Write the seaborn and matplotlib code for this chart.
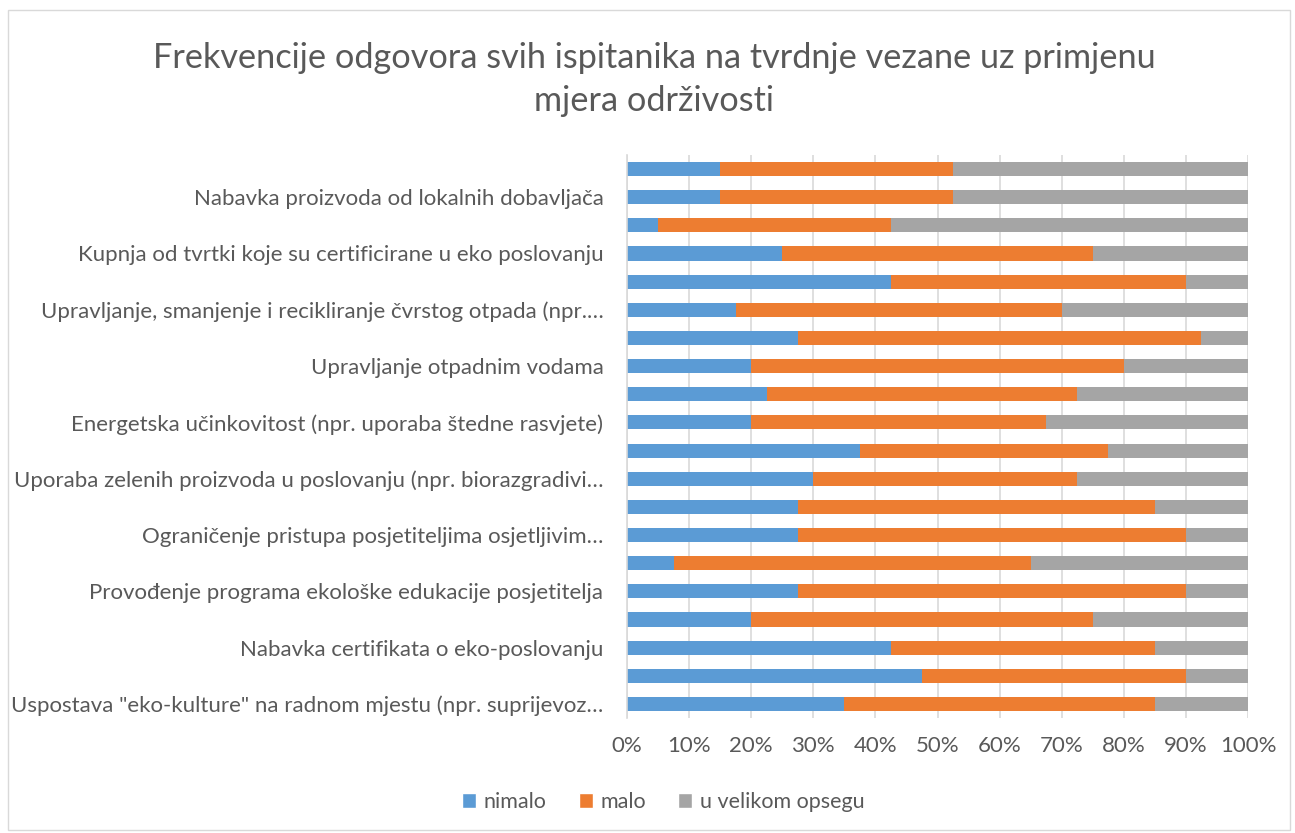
import numpy as np
import pandas as pd
from matplotlib import pyplot as plt
from matplotlib.patches import Patch, Rectangle
from matplotlib.ticker import PercentFormatter
import seaborn as sns

sns.set_style("white")
plt.rcParams['font.family'] = ['Lato', 'DejaVu Sans']

# statements, top to bottom; Excel shows only every other label
labels = ["",
          "Nabavka proizvoda od lokalnih dobavljača",
          "",
          "Kupnja od tvrtki koje su certificirane u eko poslovanju",
          "",
          "Upravljanje, smanjenje i recikliranje čvrstog otpada (npr.…",
          "",
          "Upravljanje otpadnim vodama",
          "",
          "Energetska učinkovitost (npr. uporaba štedne rasvjete)",
          "",
          "Uporaba zelenih proizvoda u poslovanju (npr. biorazgradivi…",
          "",
          "Ograničenje pristupa posjetiteljima osjetljivim…",
          "",
          "Provođenje programa ekološke edukacije posjetitelja",
          "",
          "Nabavka certifikata o eko-poslovanju",
          "",
          "Uspostava \"eko-kulture\" na radnom mjestu (npr. suprijevoz…"]

# shares in %, same order
nimalo = [15, 15, 5, 25, 42.5, 17.5, 27.5, 20, 22.5, 20,
          37.5, 30, 27.5, 27.5, 7.5, 27.5, 20, 42.5, 47.5, 35]
malo = [37.5, 37.5, 37.5, 50, 47.5, 52.5, 65, 60, 50, 47.5,
        40, 42.5, 57.5, 62.5, 57.5, 62.5, 55, 42.5, 42.5, 50]
u_velikom = [47.5, 47.5, 57.5, 25, 10, 30, 7.5, 20, 27.5, 32.5,
             22.5, 27.5, 15, 10, 35, 10, 25, 15, 10, 15]

series = ["nimalo", "malo", "u velikom opsegu"]
colors = ["#5B9BD5", "#ED7D31", "#A5A5A5"]

df = pd.DataFrame({"id": [str(i) for i in range(len(labels))],
                   "nimalo": nimalo, "malo": malo, "u velikom opsegu": u_velikom})
df["c1"] = df["nimalo"]
df["c2"] = df["c1"] + df["malo"]
df["c3"] = df["c2"] + df["u velikom opsegu"]

fig = plt.figure(figsize=(12.95, 8.33), dpi=100)
ax = fig.add_axes([0.4842, 0.138, 0.4795, 0.676])

# stacked bars: draw cumulative totals back to front
for col, c in zip(["c3", "c2", "c1"], colors[::-1]):
    sns.barplot(data=df, x=col, y="id", orient="h", color=c, width=0.5,
                saturation=1, linewidth=0, ax=ax)

ax.set_xlim(0, 100)
ax.set_ylim(len(labels) - 0.5, -0.5)
ax.set_xticks(np.arange(0, 101, 10))
ax.xaxis.set_major_formatter(PercentFormatter(decimals=0))
ax.set_yticks(range(len(labels)))
ax.set_yticklabels(labels)
ax.set_xlabel("")
ax.set_ylabel("")
ax.grid(axis="x", color="#D9D9D9", linewidth=1.2)
ax.set_axisbelow(True)
for s in ["top", "right", "bottom"]:
    ax.spines[s].set_visible(False)
ax.spines["left"].set_color("#D9D9D9")
ax.spines["left"].set_linewidth(1.2)
ax.tick_params(axis="both", length=0, labelsize=16, colors="#595959")
ax.tick_params(axis="y", pad=17)
ax.tick_params(axis="x", pad=13)

fig.suptitle("Frekvencije odgovora svih ispitanika na tvrdnje vezane uz primjenu\nmjera održivosti",
             x=0.505, y=0.95, va="top", fontsize=24.7, color="#595959", linespacing=1.45)

handles = [Patch(facecolor=c, label=s) for s, c in zip(series, colors)]
fig.legend(handles=handles, loc="center", bbox_to_anchor=(0.512, 0.037), ncol=3,
           frameon=False, fontsize=15.5, labelcolor="#595959",
           handlelength=0.65, handleheight=0.65, handletextpad=0.35, columnspacing=1.5)

fig.patches.append(Rectangle((0.006, 0.004), 0.99, 0.984, transform=fig.transFigure,
                             fill=False, edgecolor="#D9D9D9", linewidth=1))

fig.savefig("out.png", dpi=100)
